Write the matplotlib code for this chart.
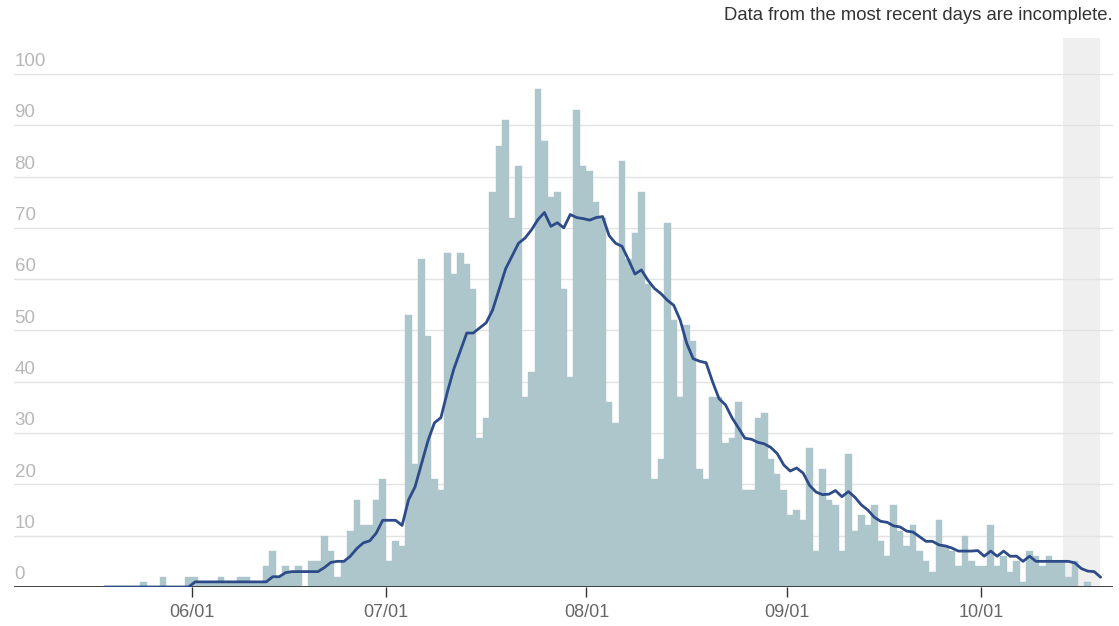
import numpy as np
import pandas as pd
import matplotlib
matplotlib.use("Agg")
import matplotlib.pyplot as plt
import matplotlib.dates as mdates
import matplotlib.transforms as mtransforms

plt.rcParams["font.family"] = ["Liberation Sans", "DejaVu Sans"]

# daily counts, starting 2020-05-18
start = "2020-05-18"
cases = [0, 0, 0, 0, 0, 0, 1, 0, 0, 2, 0, 0, 0, 2,
         2, 1, 1, 1, 2, 1, 1, 2, 2, 1, 1, 4, 7, 2, 4, 3, 4, 0, 5, 5,
         10, 7, 2, 5, 11, 17, 12, 12, 17, 21,
         5, 9, 8, 53, 24, 64, 49, 21, 19, 65, 61, 65, 63, 58, 29, 33,
         77, 86, 91, 72, 82, 37, 42, 97, 87, 76, 77, 58, 41, 93, 82,
         81, 75, 72, 36, 32, 83, 64, 69, 77, 59, 21, 25, 71, 52, 37,
         51, 48, 23, 21, 37, 37, 28, 29, 36, 19, 19, 33, 34, 25, 22, 19,
         14, 15, 13, 27, 7, 23, 17, 16, 7, 26, 11, 14, 12, 16, 9, 6,
         16, 11, 8, 12, 7, 5, 3, 13, 8, 7, 4, 10, 5, 4, 4,
         12, 4, 6, 3, 5, 1, 7, 6, 4, 6, 5, 5, 2, 5, 0, 1, 0, 0]
# 7-day average as drawn
avg = [0, 0, 0, 0, 0, 0, 0, 0, 0, 0, 0, 0, 0, 0,
       1, 1, 1, 1, 1, 1, 1, 1, 1, 1, 1, 1, 2, 2, 2.8, 3, 3, 3, 3, 3,
       3.8, 4.8, 5, 5, 6, 7.5, 8.6, 9, 10.5, 13,
       13, 13, 12, 17, 19.5, 24, 28.5, 32, 33, 38, 42.5, 46, 49.5, 49.5, 50.5, 51.5,
       54, 58, 62, 64.5, 67, 68, 69.6, 71.6, 73, 70.3, 71, 70, 72.6, 72, 71.8,
       71.5, 72, 72.2, 68.5, 67, 66.4, 63.8, 61, 61.8, 59.8, 58.2, 57.2, 55.9, 54.9, 52,
       47.5, 44.5, 44, 43.7, 40, 36.7, 35.5, 33, 31, 29, 28.8, 28.2, 27.9, 27.2, 26, 23.8,
       22.6, 23.2, 22.2, 19.8, 18.5, 18, 18.1, 18.8, 17.6, 18.6, 17.5, 16, 15, 13.6, 12.8, 12.6,
       11.9, 11.7, 10.9, 10.7, 9.8, 8.9, 8.9, 8.2, 8, 7.6, 7, 7, 7, 7.1,
       6, 7, 6, 7, 6, 6, 5, 6, 5, 5, 5, 5, 5, 5, 4.7, 3.6, 3.1, 3, 1.9]

tick_dates = ["2020-06-01", "2020-07-01", "2020-08-01", "2020-09-01", "2020-10-01"]
tick_labels = ["06/01", "07/01", "08/01", "09/01", "10/01"]
y_ticks = [0, 10, 20, 30, 40, 50, 60, 70, 80, 90, 100]
incomplete_from = "2020-10-14"
incomplete_to = "2020-10-19"
note = "Data from the most recent days are incomplete."

days = mdates.date2num(pd.date_range(start, periods=len(cases), freq="D"))
x0 = mdates.date2num(pd.Timestamp("2020-06-01"))

fig = plt.figure(figsize=(11.19, 6.26), dpi=100)
ax = fig.add_axes([0.0125, 0.0623, 0.9821, 0.877])

ax.axvspan(mdates.date2num(pd.Timestamp(incomplete_from)) - 0.4,
           mdates.date2num(pd.Timestamp(incomplete_to)) + 0.45,
           color="#efefef", lw=0, zorder=0)

for v in y_ticks[1:]:
    ax.axhline(v, color="#e3e3e3", lw=1, zorder=1)

ax.bar(days, cases, width=1.0, align="edge", color="#adc6cc",
       edgecolor="#adc6cc", linewidth=0.3, zorder=2)
ax.axhline(0, color="#333333", lw=1.3, zorder=2.5)
ax.plot(days + 0.5, avg, color="#2d4b88", lw=2.0, zorder=3,
        solid_joinstyle="round", solid_capstyle="round")

ax.set_xlim(x0 - 27.5, x0 + 142.4)
ax.set_ylim(0, 107)

ax.set_xticks(mdates.date2num(pd.to_datetime(tick_dates)))
ax.set_xticklabels(tick_labels, fontsize=13, color="#666666")
ax.tick_params(axis="x", length=7, width=1, color="#333333", pad=5)
ax.set_yticks([])

trans = mtransforms.blended_transform_factory(ax.transAxes, ax.transData)
for v in y_ticks:
    ax.text(0.0005, v + 2.4, str(v), transform=trans, fontsize=13.5,
            color="#b8b8b8", ha="left", va="center")

for s in ax.spines.values():
    s.set_visible(False)

fig.text(1113 / 1119, 1 - 16 / 626, note, fontsize=13.3, color="#333333",
         ha="right", va="center")

fig.savefig("out.png", dpi=100)
